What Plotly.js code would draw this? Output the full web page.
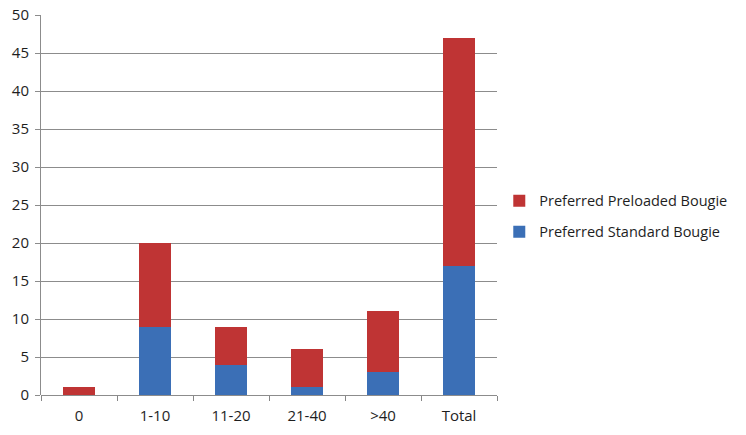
<!DOCTYPE html>
<html>
<head>
<meta charset="utf-8">
<script src="https://cdn.plot.ly/plotly-3.0.1.min.js"></script>
<style>
  html, body { margin: 0; padding: 0; background: #fff; }
  #myPlot { width: 746px; height: 435px; }
</style>
</head>
<body>
<div id="myPlot"></div>
<script>
// categories along the x axis
var groups = ['0', '1-10', '11-20', '21-40', '>40', 'Total'];

// counts per group
var standardBougie = [0, 9, 4, 1, 3, 17];
var preloadedBougie = [1, 11, 5, 5, 8, 30];

var yTicks = [0, 5, 10, 15, 20, 25, 30, 35, 40, 45, 50];

// bottom part of each stack
var Standard = {
    type: 'bar',
    x: groups,
    y: standardBougie,
    name: 'Preferred Standard Bougie',
    legendgroup: 'std',
    legendrank: 2,
    marker: { color: '#3b6fb6' },
    hoverinfo: 'all'
}

// top part of each stack
var Preloaded = {
    type: 'bar',
    x: groups,
    y: preloadedBougie,
    name: 'Preferred Preloaded Bougie',
    legendgroup: 'pre',
    legendrank: 1,
    marker: { color: '#bf3434' },
    hoverinfo: 'all'
}

var data = [Standard, Preloaded]

var layout = {
    width: 746,
    height: 435,
    barmode: 'stack',
    bargap: 0.59,
    margin: { l: 41, r: 249, t: 15, b: 40 },
    paper_bgcolor: '#ffffff',
    plot_bgcolor: '#ffffff',
    font: { family: 'Open Sans, sans-serif', size: 15, color: '#1e1e1e' },
    showlegend: true,
    legend: {
        traceorder: 'grouped',
        tracegroupgap: 9,
        x: 1.005,
        y: 0.47,
        yanchor: 'middle',
        xanchor: 'left',
        font: { size: 14.5, color: '#1e1e1e' },
        itemwidth: 30
    },
    xaxis: {
        type: 'category',
        showgrid: false,
        zeroline: false,
        showline: false,
        ticks: 'outside',
        tickson: 'boundaries',
        ticklen: 5,
        tickcolor: '#868686',
        ticklabelstandoff: 10
    },
    yaxis: {
        range: [0, 50],
        tickvals: yTicks,
        showgrid: true,
        gridcolor: '#8c8c8c',
        gridwidth: 1,
        zeroline: true,
        zerolinecolor: '#8c8c8c',
        zerolinewidth: 1,
        showline: true,
        linecolor: '#8c8c8c',
        ticks: 'outside',
        ticklen: 5,
        tickcolor: '#8c8c8c',
        ticklabelstandoff: 3
    }
}

Plotly.newPlot('myPlot', data, layout, { displayModeBar: false });
</script>
</body>
</html>
